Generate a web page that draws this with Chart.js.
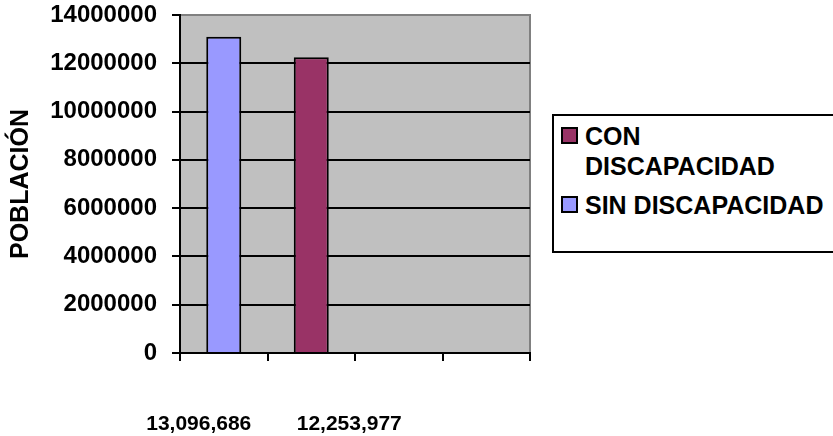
<!DOCTYPE html>
<html>
<head>
<meta charset="utf-8">
<title>Población con y sin discapacidad</title>
<script src="https://cdn.jsdelivr.net/npm/chart.js@4.4.1/dist/chart.umd.min.js"></script>
<style>
  html, body { margin: 0; padding: 0; background: #fff; overflow: hidden; }
  #marco { position: relative; width: 833px; height: 436px; }
  #leyenda {
    position: absolute; left: 552px; top: 114px; width: 300px; height: 139px;
    box-sizing: border-box; border: 2px solid #000; background: #fff;
    font-family: "Liberation Sans", Arial, sans-serif; font-weight: bold; font-size: 25px;
  }
  .item { position: absolute; left: 0; width: 290px; line-height: 30px; }
  .item .cuadro {
    position: absolute; left: 7px; top: 6px; width: 17px; height: 17px;
    box-sizing: border-box; border: 2px solid #000;
  }
  .item .texto { margin-left: 31px; width: 246px; }
</style>
</head>
<body>
<div id="marco">
  <canvas id="grafico" width="833" height="436"></canvas>
  <div id="leyenda"></div>
</div>
<script>
// datos
var categorias = ['13,096,686', '12,253,977', '', '']
var sinDiscapacidad = [13096686, null, null, null]
var conDiscapacidad = [null, 12253977, null, null]
var ticksY = [0, 2000000, 4000000, 6000000, 8000000, 10000000, 12000000, 14000000]

Chart.defaults.font.family = '"Liberation Sans", Arial, sans-serif'
Chart.defaults.font.weight = 'bold'
Chart.defaults.font.size = 24
Chart.defaults.color = '#000'

// fondo gris del area de trazado con borde superior y derecho
var fondoPlot = {
  id: 'fondoPlot',
  beforeDraw: function(chart){
    var ctx = chart.ctx, a = chart.chartArea
    ctx.save()
    ctx.fillStyle = '#c0c0c0'
    ctx.fillRect(a.left, a.top, a.right - a.left, a.bottom - a.top)
    ctx.strokeStyle = '#808080'
    ctx.lineWidth = 2
    ctx.beginPath()
    ctx.moveTo(a.left, a.top)
    ctx.lineTo(a.right, a.top)
    ctx.lineTo(a.right, a.bottom)
    ctx.stroke()
    ctx.restore()
  }
}

// etiquetas de categoria bajo el eje, corridas respecto al centro de cada categoria
var etiquetasEje = {
  id: 'etiquetasEje',
  afterDraw: function(chart, args, opts){
    var x = chart.scales.x, ctx = chart.ctx
    ctx.save()
    ctx.font = 'bold ' + opts.size + 'px "Liberation Sans", Arial, sans-serif'
    ctx.fillStyle = '#000'
    ctx.textAlign = 'center'
    ctx.textBaseline = 'middle'
    chart.data.labels.forEach(function(txt, i){
      if (!txt) return
      var px = x.getPixelForValue(i) + (opts.corrimiento[i] || 0)
      ctx.fillText(txt, px, x.top + opts.distancia)
    })
    ctx.restore()
  }
}

var ctx = document.getElementById('grafico')

var grafico = new Chart(ctx, {
  type: 'bar',
  data: {
    labels: categorias,
    datasets: [
      { label: 'CON DISCAPACIDAD', data: conDiscapacidad, backgroundColor: '#993366' },
      { label: 'SIN DISCAPACIDAD', data: sinDiscapacidad, backgroundColor: '#9999ff' }
    ]
  },
  options: {
    responsive: false,
    animation: false,
    devicePixelRatio: 1,
    layout: { padding: { left: 0, right: 303, top: 15, bottom: 0 } },
    datasets: {
      bar: {
        grouped: false,
        categoryPercentage: 1,
        barPercentage: 0.4,
        borderColor: '#000',
        borderWidth: 2
      }
    },
    plugins: {
      legend: { display: false },
      tooltip: { enabled: false },
      etiquetasEje: { size: 21, distancia: 71, corrimiento: [-25, 38] }
    },
    scales: {
      x: {
        offset: true,
        grid: { offset: true, drawOnChartArea: false, color: '#000', lineWidth: 2, tickLength: 8 },
        border: { color: '#000', width: 2 },
        ticks: { display: false },
        afterFit: function(scale){
          scale.height = 83
          scale.paddingLeft = 0
          scale.paddingRight = 0
        }
      },
      y: {
        min: 0,
        max: 14000000,
        afterBuildTicks: function(scale){
          scale.ticks = ticksY.map(function(v){ return { value: v } })
        },
        grid: {
          color: function(c){ return c.tick && c.tick.value === 14000000 ? '#808080' : '#000' },
          tickColor: '#000',
          lineWidth: 2,
          tickLength: 8
        },
        border: { color: '#000', width: 2 },
        ticks: {
          padding: 15,
          callback: function(v){ return String(v) }
        },
        title: {
          display: true,
          text: 'POBLACIÓN',
          font: { size: 25 },
          padding: { top: 6, bottom: 0 }
        },
        afterFit: function(scale){
          scale.width = 180
          scale.paddingTop = 0
          scale.paddingBottom = 0
        }
      }
    }
  },
  plugins: [fondoPlot, etiquetasEje]
})

// leyenda a partir de los datasets
var leyenda = document.getElementById('leyenda')
var tops = [5, 74]
grafico.data.datasets.forEach(function(ds, i){
  var item = document.createElement('div')
  item.className = 'item'
  item.style.top = tops[i] + 'px'
  var cuadro = document.createElement('div')
  cuadro.className = 'cuadro'
  cuadro.style.background = ds.backgroundColor
  var texto = document.createElement('div')
  texto.className = 'texto'
  texto.textContent = ds.label
  item.appendChild(cuadro)
  item.appendChild(texto)
  leyenda.appendChild(item)
})
</script>
</body>
</html>
